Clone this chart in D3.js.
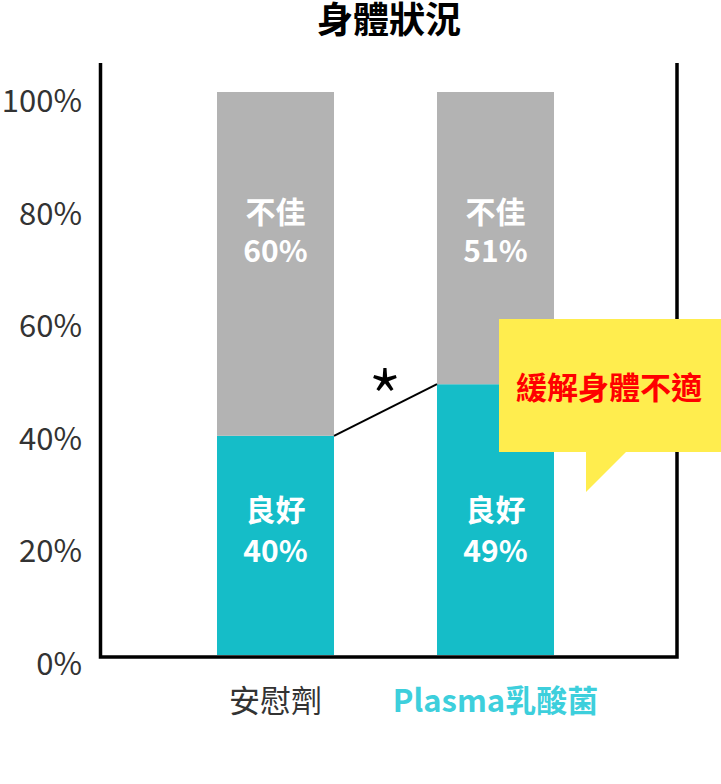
<!DOCTYPE html>
<html>
<head>
<meta charset="utf-8">
<script src="https://cdn.jsdelivr.net/npm/d3@7"></script>
<style>
  body { margin: 0; background: #fff; }
  text { font-family: "Noto Sans CJK TC", "Noto Sans", sans-serif; }
</style>
</head>
<body>
<svg id="chart" width="721" height="784"></svg>
<script>
// data
const groups = ["安慰劑", "Plasma乳酸菌"];
const goodValues = [40, 49];
const badValues = [60, 51];
const goodLabel = "良好";
const badLabel = "不佳";
const yTicks = [0, 20, 40, 60, 80, 100];
const title = "身體狀況";
const calloutText = "緩解身體不適";

const svg = d3.select("#chart");

// bar centres and value scale
const barX = d3.scalePoint().domain(groups).range([275.5, 495.5]);
const barW = 117;
const y = d3.scaleLinear().domain([0, 100]).range([665, 92]);
const baseY = 655; // bars stop at the axis line

const rows = groups.map((g, i) => ({ g, good: goodValues[i], bad: badValues[i] }));

// bars
const bars = svg.append("g");
bars.selectAll("rect.good").data(rows).enter().append("rect")
  .attr("x", d => barX(d.g) - barW / 2)
  .attr("width", barW)
  .attr("y", d => y(d.good))
  .attr("height", d => baseY - y(d.good))
  .attr("fill", "#15bdc8");
bars.selectAll("rect.bad").data(rows).enter().append("rect")
  .attr("x", d => barX(d.g) - barW / 2)
  .attr("width", barW)
  .attr("y", d => y(d.good + d.bad))
  .attr("height", d => y(d.good) - y(d.good + d.bad))
  .attr("fill", "#b3b3b3");

// labels inside bars
const lab = svg.append("g").attr("fill", "#fff").attr("font-weight", 700)
  .attr("font-size", 30).attr("text-anchor", "middle");
rows.forEach(d => {
  const cx = barX(d.g);
  lab.append("text").attr("x", cx).attr("y", 223).text(badLabel);
  lab.append("text").attr("x", cx).attr("y", 262).text(d.bad + "%");
  lab.append("text").attr("x", cx).attr("y", 521).text(goodLabel);
  lab.append("text").attr("x", cx).attr("y", 562).text(d.good + "%");
});

// connector + significance
svg.append("line")
  .attr("x1", barX(groups[0]) + barW / 2).attr("y1", y(goodValues[0]))
  .attr("x2", barX(groups[1]) - barW / 2).attr("y2", y(goodValues[1]))
  .attr("stroke", "#000").attr("stroke-width", 2);
svg.append("text").attr("x", 385).attr("y", 431).attr("text-anchor", "middle")
  .attr("font-weight", 300)
  .attr("font-size", 80).attr("fill", "#000").text("*");

// frame
const frame = svg.append("g").attr("stroke", "#000").attr("stroke-width", 3.5).attr("fill", "none");
frame.append("path").attr("d", "M100.5,63V657H677V63");

// y tick labels
svg.append("g").selectAll("text").data(yTicks).enter().append("text")
  .attr("x", 82).attr("y", d => y(d) + 10 + d * 0.1)
  .attr("text-anchor", "end").attr("font-size", 31).attr("fill", "#333")
  .text(d => d + "%");

// category labels
svg.append("text").attr("x", barX(groups[0])).attr("y", 712).attr("text-anchor", "middle")
  .attr("font-size", 31).attr("fill", "#333").text(groups[0]);
svg.append("text").attr("x", barX(groups[1])).attr("y", 712).attr("text-anchor", "middle")
  .attr("font-size", 31).attr("font-weight", 700).attr("fill", "#3dcfdc").text(groups[1]);

// title
svg.append("text").attr("x", 389).attr("y", 33).attr("text-anchor", "middle")
  .attr("font-size", 36).attr("font-weight", 700).attr("fill", "#000").text(title);

// callout
const co = svg.append("g");
co.append("path")
  .attr("d", "M499,319H721V452H626L586,492V452H499Z")
  .attr("fill", "#ffed4e");
co.append("text").attr("x", 609).attr("y", 399).attr("text-anchor", "middle")
  .attr("font-size", 31).attr("font-weight", 700).attr("fill", "#f00").text(calloutText);
</script>
</body>
</html>
